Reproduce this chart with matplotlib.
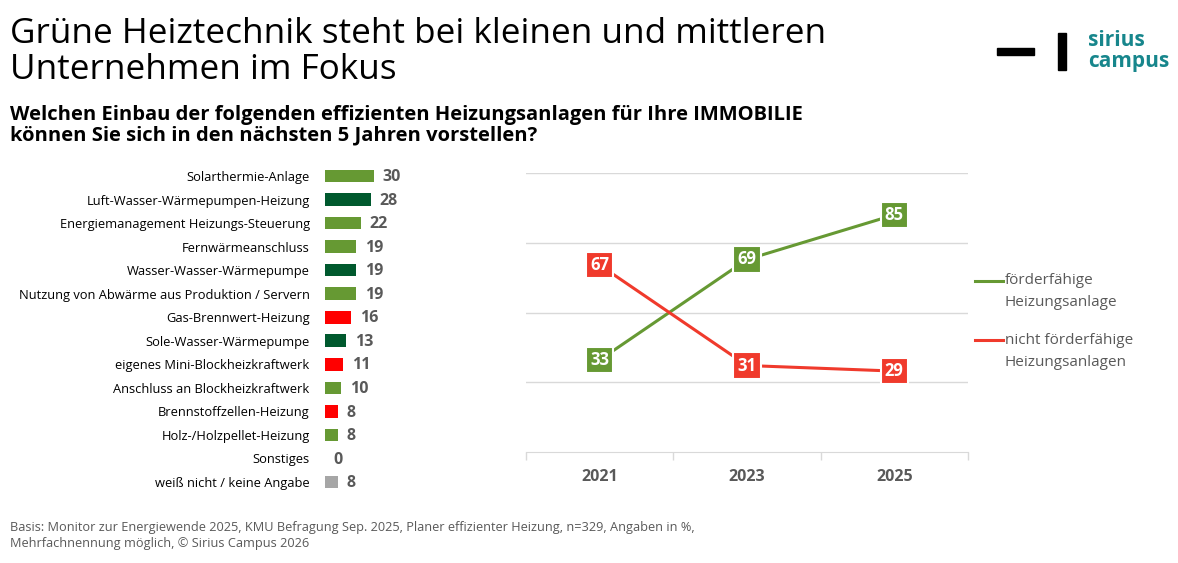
import matplotlib
matplotlib.use("Agg")
import matplotlib.pyplot as plt
from matplotlib.patches import Rectangle
from matplotlib.lines import Line2D

plt.rcParams["font.family"] = ["Open Sans", "DejaVu Sans"]

# ── Daten ────────────────────────────────────────────────────
kategorien = ["Solarthermie-Anlage", "Luft-Wasser-Wärmepumpen-Heizung",
              "Energiemanagement Heizungs-Steuerung", "Fernwärmeanschluss",
              "Wasser-Wasser-Wärmepumpe",
              "Nutzung von Abwärme aus Produktion / Servern",
              "Gas-Brennwert-Heizung", "Sole-Wasser-Wärmepumpe",
              "eigenes Mini-Blockheizkraftwerk", "Anschluss an Blockheizkraftwerk",
              "Brennstoffzellen-Heizung", "Holz-/Holzpellet-Heizung",
              "Sonstiges", "weiß nicht / keine Angabe"]
werte = [30, 28, 22, 19, 19, 19, 16, 13, 11, 10, 8, 8, 0, 8]
gruppe = ["hell", "dunkel", "hell", "hell", "dunkel", "hell", "rot", "dunkel",
          "rot", "hell", "rot", "hell", "hell", "grau"]

jahre = ["2021", "2023", "2025"]
foerderfaehig = [33, 69, 85]
nicht_foerderfaehig = [67, 31, 29]

farben = {"hell": "#669933", "dunkel": "#00592E", "rot": "#FF0000", "grau": "#A6A6A6"}
GRUEN = "#669933"
ROT = "#F03A2C"
GRAU_TXT = "#595959"

W, H = 1178, 563
fig = plt.figure(figsize=(W / 100, H / 100), dpi=100)


def px_axes(x0, y0, x1, y1):
    return fig.add_axes([x0 / W, 1 - y1 / H, (x1 - x0) / W, (y1 - y0) / H])


# ── Titel ────────────────────────────────────────────────────
fig.text(10 / W, 1 - 17 / H, "Grüne Heiztechnik steht bei kleinen und mittleren\nUnternehmen im Fokus",
         fontsize=25.3, va="top", ha="left", color="#000000", linespacing=1.08)
fig.text(10 / W, 1 - 105 / H, "Welchen Einbau der folgenden effizienten Heizungsanlagen für Ihre IMMOBILIE\n"
         "können Sie sich in den nächsten 5 Jahren vorstellen?",
         fontsize=14.5, fontweight="bold", va="top", ha="left", color="#000000", linespacing=1.05)

# ── Logo ─────────────────────────────────────────────────────
fig.patches.append(Rectangle((997 / W, 1 - 55 / H), 37 / W, 7 / H,
                             transform=fig.transFigure, color="black"))
fig.patches.append(Rectangle((1058 / W, 1 - 70 / H), 8 / W, 37 / H,
                             transform=fig.transFigure, color="black"))
fig.text(1088 / W, 1 - 41 / H, "sirius", fontsize=15, fontweight="bold",
         color="#17868C", va="center", ha="left")
fig.text(1088 / W, 1 - 62 / H, "campus", fontsize=15, fontweight="bold",
         color="#17868C", va="center", ha="left")

# ── Balkendiagramm ───────────────────────────────────────────
ax1 = px_axes(325, 164.2, 407, 493.8)
pos = list(range(len(kategorien)))
ax1.barh(pos, werte, height=0.54, color=[farben[g] for g in gruppe])
for p, v in zip(pos, werte):
    ax1.text(v + 5.3, p + 0.05, str(v), va="center", ha="left", fontsize=11.5,
             fontweight="bold", color=GRAU_TXT)
ax1.set_xlim(0, 50)
ax1.set_ylim(len(kategorien) - 0.5, -0.5)
ax1.set_yticks(pos)
ax1.set_yticklabels(kategorien, fontsize=9.3, color="#000000")
ax1.tick_params(axis="y", length=0, pad=11)
ax1.set_xticks([])
for s in ax1.spines.values():
    s.set_visible(False)
ax1.patch.set_alpha(0)

# ── Liniendiagramm ───────────────────────────────────────────
ax2 = px_axes(526, 173, 968, 452)
x = list(range(len(jahre)))
ax2.plot(x, foerderfaehig, color=GRUEN, linewidth=2.2, zorder=3)
ax2.plot(x, nicht_foerderfaehig, color=ROT, linewidth=2.2, zorder=3)
for xi, v in zip(x, foerderfaehig):
    ax2.text(xi, v, str(v), ha="center", va="center", fontsize=12, fontweight="bold",
             color="white", zorder=5,
             bbox=dict(boxstyle="square,pad=0.25", fc=GRUEN, ec="white", lw=1.5))
for xi, v in zip(x, nicht_foerderfaehig):
    ax2.text(xi, v, str(v), ha="center", va="center", fontsize=12, fontweight="bold",
             color="white", zorder=5,
             bbox=dict(boxstyle="square,pad=0.25", fc=ROT, ec="white", lw=1.5))
ax2.set_xlim(-0.5, 2.5)
ax2.set_ylim(0, 100)
ax2.set_yticks([25, 50, 75, 100])
ax2.yaxis.grid(True, color="#D9D9D9", linewidth=1)
ax2.tick_params(axis="y", length=0, labelleft=False)
ax2.set_xticks(x)
ax2.set_xticklabels(jahre, fontsize=11.5, fontweight="bold", color=GRAU_TXT)
ax2.tick_params(axis="x", length=0, pad=12)
ax2.set_xticks([-0.5, 0.5, 1.5, 2.5], minor=True)
ax2.tick_params(axis="x", which="minor", length=6, color="#D9D9D9", width=1)
for k in ["top", "right", "left"]:
    ax2.spines[k].set_visible(False)
ax2.spines["bottom"].set_color("#D9D9D9")
ax2.set_axisbelow(True)

# ── Legende ──────────────────────────────────────────────────
fig.add_artist(Line2D([975 / W, 1003 / W], [1 - 281 / H, 1 - 281 / H], color=GRUEN, linewidth=2.2))
fig.text(1005 / W, 1 - 281 / H, "förderfähige", fontsize=11, color=GRAU_TXT, va="center")
fig.text(1005 / W, 1 - 303 / H, "Heizungsanlage", fontsize=11, color=GRAU_TXT, va="center")
fig.add_artist(Line2D([975 / W, 1003 / W], [1 - 340 / H, 1 - 340 / H], color=ROT, linewidth=2.2))
fig.text(1005 / W, 1 - 340 / H, "nicht förderfähige", fontsize=11, color=GRAU_TXT, va="center")
fig.text(1005 / W, 1 - 362 / H, "Heizungsanlagen", fontsize=11, color=GRAU_TXT, va="center")

# ── Fußnote ──────────────────────────────────────────────────
fig.text(10 / W, 1 - 521 / H,
         "Basis: Monitor zur Energiewende 2025, KMU Befragung Sep. 2025, Planer effizienter Heizung, n=329, Angaben in %,\n"
         "Mehrfachnennung möglich, © Sirius Campus 2026",
         fontsize=9.2, color=GRAU_TXT, va="top", ha="left", linespacing=1.25)

fig.savefig("out.png", dpi=100)
